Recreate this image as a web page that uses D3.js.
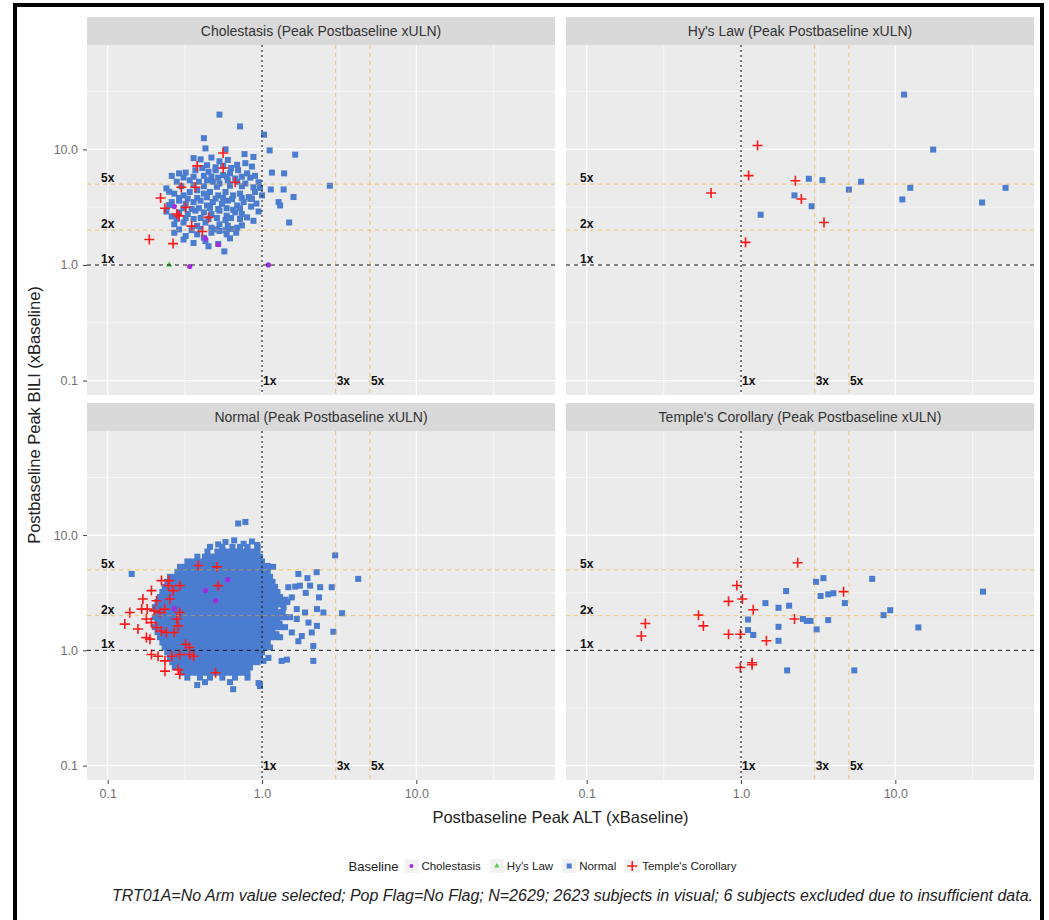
<!DOCTYPE html>
<html>
<head>
<meta charset="utf-8">
<script src="https://cdn.jsdelivr.net/npm/d3@7"></script>
<style>
  body { margin: 0; background: #fff; }
  svg { display: block; font-family: "Liberation Sans", Arial, sans-serif; }
</style>
</head>
<body>
<div id="chart"></div>
<script>
//************* data ***************/
var panelTitles = [
  "Cholestasis (Peak Postbaseline xULN)",
  "Hy's Law (Peak Postbaseline xULN)",
  "Normal (Peak Postbaseline xULN)",
  "Temple's Corollary (Peak Postbaseline xULN)"
];
var baselineGroups = ["Cholestasis", "Hy's Law", "Normal", "Temple's Corollary"];
var majorTicks = [0.1, 1, 10];
var minorTicks = [0.316, 3.16, 31.6];
var altRefs = [1, 3, 5];
var altRefLabels = ["1x", "3x", "5x"];
var biliRefs = [1, 2, 5];
var biliRefLabels = ["1x", "2x", "5x"];

// every point is [peak ALT xBaseline, peak BILI xBaseline]
// --- Cholestasis panel
var cholNormal = [
  [0.42,12.5],[0.53,20],[0.72,15.8],[1.03,13.4],
  [0.43,10.2],[0.58,10],[0.77,9.1],[0.88,8.6],[1.12,9.8],[1.64,9.0],
  [0.36,8.4],[0.40,8.2],[0.47,8.5],[0.53,7.9],[0.60,8.1],[0.69,7.35],[0.78,7.6],[0.86,7.1],
  [0.44,7.3],[0.50,7.0],[0.56,7.2],[0.63,6.9],
  [0.26,5.9],[0.29,6.2],[0.32,6.3],[0.37,6.6],[0.41,6.9],[0.45,6.4],[0.50,6.6],[0.56,6.0],[0.62,6.2],[0.70,6.6],[0.80,6.2],[0.90,5.9],[1.16,6.3],[1.39,6.2],
  [0.31,5.7],[0.36,5.8],[0.42,5.9],[0.47,5.8],[0.52,5.7],[0.59,5.8],[0.67,5.6],[0.74,5.8],[0.84,5.7],
  [0.28,5.25],[0.34,5.4],[0.39,5.25],[0.44,5.4],[0.48,5.25],[0.53,5.07],[0.60,5.4],[0.69,5.25],[0.78,5.07],[0.88,4.7],[0.97,4.64],[1.14,4.5],[1.38,4.5],
  [0.30,4.8],[0.36,4.9],[0.42,4.8],[0.51,4.75],[0.62,4.85],[0.74,4.8],[0.95,5.2],[0.24,4.6],
  [0.25,4.3],[0.27,4.14],[0.31,4.0],[0.34,4.28],[0.38,4.43],[0.42,4.14],[0.46,4.28],[0.52,4.0],[0.58,4.28],[0.65,4.0],[0.72,4.14],[0.82,3.87],[0.90,4.28],[1.6,3.87],[1.0,4.0],
  [0.29,3.8],[0.33,3.75],[0.38,3.8],[0.44,3.85],[0.50,3.75],[0.56,3.8],[0.64,3.7],[0.74,3.8],[0.86,3.75],
  [0.26,3.5],[0.29,3.6],[0.32,3.38],[0.36,3.5],[0.40,3.6],[0.44,3.27],[0.48,3.5],[0.55,3.38],[0.60,3.6],[0.69,3.27],[0.76,3.5],[0.84,3.74],[1.28,3.5],[1.31,3.27],[0.92,3.4],[0.25,3.3],
  [0.31,3.1],[0.35,3.05],[0.39,3.1],[0.46,3.12],[0.52,3.05],[0.59,3.1],[0.65,3.0],[0.72,3.1],[0.85,3.2],
  [0.26,2.63],[0.29,2.85],[0.33,2.76],[0.37,2.95],[0.42,2.85],[0.47,2.76],[0.53,2.95],[0.59,2.67],[0.67,2.85],[0.74,2.76],[0.80,2.58],[0.88,2.41],[0.95,2.9],[0.24,2.9],
  [0.28,2.5],[0.32,2.55],[0.36,2.5],[0.40,2.55],[0.45,2.5],[0.51,2.55],[0.58,2.45],[0.63,2.55],[0.72,2.5],
  [0.27,2.25],[0.31,2.33],[0.38,2.18],[0.43,2.33],[0.47,2.1],[0.53,2.25],[0.60,2.18],[0.69,2.1],[1.5,2.33],[0.74,2.2],
  [0.29,2.03],[0.35,2.0],[0.40,2.05],[0.51,2.03],[0.58,2.0],[0.63,2.05],[0.68,1.9],
  [0.27,1.9],[0.32,1.78],[0.38,1.84],[0.42,1.72],[0.47,1.9],[0.53,1.97],[0.59,1.84],[0.62,1.7],
  [0.31,1.66],[0.36,1.55],[0.43,1.61],[0.52,1.52],[0.57,1.31],[0.45,1.45],
  [2.75,4.85]
];
var cholChol = [[0.34,0.97],[1.1,1.0],[0.27,3.2],[0.43,1.69],[0.52,1.5]];
var cholHys = [[0.25,1.0]];
var cholTemple = [
  [0.186,1.66],[0.265,1.53],[0.22,3.8],[0.235,3.1],[0.30,4.7],[0.37,4.7],[0.38,7.2],[0.56,9.3],
  [0.56,6.9],[0.67,5.2],[0.29,2.66],[0.32,3.15],[0.45,2.58],[0.35,2.17],[0.41,1.95],[0.28,2.76]
];

// --- Hy's Law panel
var hysNormal = [
  [11.4,29.8],[17.6,9.96],[2.75,5.57],[3.37,5.42],[6.0,5.25],[5.0,4.49],[12.5,4.65],
  [51.8,4.65],[11.1,3.69],[36.5,3.47],[2.22,4.0],[2.87,3.22],[1.34,2.72]
];
var hysTemple = [[1.28,10.8],[1.12,5.93],[2.25,5.35],[0.64,4.2],[2.46,3.72],[3.45,2.33],[1.07,1.57]];

// --- Normal panel: scattered points
var normNormal = [
  [0.70,12.6],[0.78,13.0],[2.98,6.67],[4.2,4.17],[1.72,4.6],[1.97,4.23],[2.26,4.77],[1.48,3.53],
  [1.64,3.57],[1.76,3.64],[2.05,3.64],[2.38,3.53],[2.83,3.53],[1.56,2.88],[1.92,3.15],[2.34,2.88],
  [1.38,2.36],[1.68,2.28],[1.9,2.13],[2.27,2.28],[2.5,2.13],[3.3,2.1],[1.68,1.87],[2.0,1.74],
  [2.27,1.63],[1.56,1.43],[1.81,1.33],[2.1,1.43],[2.9,1.45],[1.72,1.2],[2.15,1.09],[1.34,0.81],
  [1.45,0.83],[2.15,0.81],[1.02,0.81],[1.1,0.86],[0.95,0.52],[0.97,0.49],[0.65,0.46],[0.38,0.5],
  [1.18,5.3],[1.09,5.4],[0.143,4.6],
  [0.58,8.7],[0.66,9.0],[0.86,8.8],[0.76,8.4],[0.52,8.3],[0.93,8.2],
  [1.42,2.75],[1.3,1.7],[1.24,1.38],[1.33,2.5]
];
// dense core of the Normal panel, read row by row: [BILI, [ALT values]]
var normalBlobRows = [
  [7.9, [0.46,0.553,0.643,0.72,0.805,0.935]],
  [7.2, [0.443,0.514,0.553,0.597,0.643,0.693,0.747,0.805,0.867,0.935]],
  [6.5, [0.381,0.427,0.46,0.495,0.533,0.575,0.62,0.668,0.72,0.776,0.836,0.901,0.97]],
  [5.9, [0.328,0.354,0.381,0.411,0.443,0.477,0.514,0.553,0.597,0.643,0.693,0.747,0.805,0.867,0.935,1.0]],
  [5.3, [0.294,0.316,0.341,0.367,0.396,0.427,0.46,0.495,0.533,0.575,0.62,0.668,0.72,0.776,0.836,0.901,0.97,1.045]],
  [4.8, [0.283,0.305,0.328,0.354,0.381,0.411,0.443,0.477,0.514,0.553,0.597,0.643,0.693,0.747,0.805,0.867,0.935,1.0,1.09]],
  [4.34, [0.253,0.272,0.294,0.316,0.341,0.367,0.396,0.427,0.46,0.495,0.533,0.575,0.62,0.668,0.72,0.776,0.836,0.901,0.97,1.045,1.127]],
  [3.93, [0.243,0.262,0.283,0.305,0.328,0.354,0.381,0.411,0.443,0.477,0.514,0.553,0.597,0.643,0.693,0.747,0.805,0.867,0.935,1.0,1.09,1.17]],
  [3.55, [0.234,0.253,0.272,0.294,0.316,0.341,0.367,0.396,0.427,0.46,0.495,0.533,0.575,0.62,0.668,0.72,0.776,0.836,0.901,0.97,1.045,1.127,1.214]],
  [3.21, [0.226,0.243,0.262,0.283,0.305,0.328,0.354,0.381,0.411,0.443,0.477,0.514,0.553,0.597,0.643,0.693,0.747,0.805,0.867,0.935,1.0,1.09,1.17,1.26]],
  [2.9, [0.218,0.234,0.253,0.272,0.294,0.316,0.341,0.367,0.396,0.427,0.46,0.495,0.533,0.575,0.62,0.668,0.72,0.776,0.836,0.901,0.97,1.045,1.127,1.214,1.309]],
  [2.63, [0.21,0.226,0.243,0.262,0.283,0.305,0.328,0.354,0.381,0.411,0.443,0.477,0.514,0.553,0.597,0.643,0.693,0.747,0.805,0.867,0.935,1.0,1.09,1.17,1.26,1.36,1.46]],
  [2.37, [0.202,0.218,0.234,0.253,0.272,0.294,0.316,0.341,0.367,0.396,0.427,0.46,0.495,0.533,0.575,0.62,0.668,0.72,0.776,0.836,0.901,0.97,1.045,1.127,1.214]],
  [2.15, [0.21,0.226,0.243,0.262,0.283,0.305,0.328,0.354,0.381,0.411,0.443,0.477,0.514,0.553,0.597,0.643,0.693,0.747,0.805,0.867,0.935,1.0,1.09,1.17,1.26,1.36]],
  [1.94, [0.202,0.218,0.234,0.253,0.272,0.294,0.316,0.341,0.367,0.396,0.427,0.46,0.495,0.533,0.575,0.62,0.668,0.72,0.776,0.836,0.901,0.97,1.045,1.127,1.214,1.309,1.41,1.52]],
  [1.76, [0.21,0.226,0.243,0.262,0.283,0.305,0.328,0.354,0.381,0.411,0.443,0.477,0.514,0.553,0.597,0.643,0.693,0.747,0.805,0.867,0.935,1.0,1.09,1.17,1.26]],
  [1.59, [0.202,0.218,0.234,0.253,0.272,0.294,0.316,0.341,0.367,0.396,0.427,0.46,0.495,0.533,0.575,0.62,0.668,0.72,0.776,0.836,0.901,0.97,1.045,1.127,1.214,1.309,1.41]],
  [1.44, [0.21,0.226,0.243,0.262,0.283,0.305,0.328,0.354,0.381,0.411,0.443,0.477,0.514,0.553,0.597,0.643,0.693,0.747,0.805,0.867,0.935,1.0,1.09,1.17]],
  [1.30, [0.218,0.234,0.253,0.272,0.294,0.316,0.341,0.367,0.396,0.427,0.46,0.495,0.533,0.575,0.62,0.668,0.72,0.776,0.836,0.901,0.97,1.045,1.127,1.214,1.309]],
  [1.17, [0.226,0.243,0.262,0.283,0.305,0.328,0.354,0.381,0.411,0.443,0.477,0.514,0.553,0.597,0.643,0.693,0.747,0.805,0.867,0.935,1.0,1.09]],
  [1.06, [0.234,0.253,0.272,0.294,0.316,0.341,0.367,0.396,0.427,0.46,0.495,0.533,0.575,0.62,0.668,0.72,0.776,0.836,0.901,0.97,1.045,1.127]],
  [0.96, [0.243,0.262,0.283,0.305,0.328,0.354,0.381,0.411,0.443,0.477,0.514,0.553,0.597,0.643,0.693,0.747,0.805,0.867,0.935,1.0]],
  [0.87, [0.253,0.272,0.294,0.316,0.341,0.367,0.396,0.427,0.46,0.495,0.533,0.575,0.62,0.668,0.72,0.776,0.836,0.901,0.97]],
  [0.79, [0.262,0.283,0.305,0.328,0.354,0.381,0.411,0.443,0.477,0.514,0.553,0.597,0.643,0.693,0.747,0.805,0.867,0.935]],
  [0.71, [0.272,0.294,0.316,0.341,0.367,0.396,0.427,0.46,0.495,0.533,0.575,0.62,0.668,0.72,0.776,0.836]],
  [0.64, [0.305,0.328,0.354,0.381,0.411,0.443,0.477,0.514,0.553,0.597,0.643,0.693,0.747,0.805]],
  [0.58, [0.328,0.396,0.46,0.553,0.668,0.805]],
  [0.53, [0.427,0.62]]
];
var normChol = [[0.5,2.7],[0.43,3.3],[0.27,2.3],[0.6,4.1]];
var normTemple = [
  [0.386,5.45],[0.51,5.3],[0.52,3.64],[0.223,4.03],[0.247,3.64],[0.266,3.3],[0.293,3.64],[0.192,3.3],
  [0.169,2.79],[0.207,2.69],[0.253,2.79],[0.166,2.28],[0.18,2.28],[0.2,2.2],[0.139,2.13],[0.218,2.13],
  [0.234,2.28],[0.293,2.13],[0.129,1.69],[0.157,1.53],[0.178,1.87],[0.192,1.74],[0.207,1.58],[0.223,1.47],
  [0.24,1.43],[0.27,1.43],[0.178,1.29],[0.188,1.25],[0.32,1.13],[0.192,0.92],[0.212,0.89],[0.235,0.81],
  [0.26,0.89],[0.293,0.92],[0.235,0.66],[0.286,0.68],[0.293,0.62],[0.36,0.89],[0.34,1.06],[0.28,1.87],
  [0.286,1.63],[0.25,4.03],[0.5,0.64],[0.34,0.92]
];

// --- Temple's Corollary panel
var templeNormal = [
  [7.08,4.17],[37,3.23],[3.42,4.23],[3.06,3.93],[3.28,2.96],[3.67,3.06],[3.97,3.13],[4.71,2.57],
  [1.96,3.27],[1.44,2.57],[1.75,2.34],[2.05,2.44],[8.39,2.02],[9.27,2.23],[1.11,1.85],[14.1,1.58],
  [3.67,1.83],[2.52,1.87],[2.67,1.80],[2.82,1.80],[3.09,1.52],[1.75,1.60],[1.11,1.50],[1.2,1.36],
  [1.75,1.21],[1.99,0.67],[5.42,0.67]
];
var templeTemple = [
  [2.33,5.75],[0.94,3.65],[1.02,2.79],[0.83,2.66],[1.2,2.25],[0.53,2.02],[0.57,1.63],[0.24,1.71],
  [0.226,1.33],[0.83,1.38],[0.99,1.38],[1.46,1.21],[2.22,1.87],[4.62,3.23],[0.99,0.71],[1.18,0.78],[1.18,0.75]
];

var footnote = "TRT01A=No Arm value selected; Pop Flag=No Flag; N=2629; 2623 subjects in visual; 6 subjects excluded due to insufficient data.";

// flatten the Normal core rows into points
var normBlob = [];
normalBlobRows.forEach(function(r) {
  r[1].forEach(function(a) { normBlob.push([a, r[0]]); });
});

var panels = [
  {title: panelTitles[0], col: 0, row: 0, groups: {"Normal": cholNormal, "Cholestasis": cholChol, "Hy's Law": cholHys, "Temple's Corollary": cholTemple}},
  {title: panelTitles[1], col: 1, row: 0, groups: {"Normal": hysNormal, "Cholestasis": [], "Hy's Law": [], "Temple's Corollary": hysTemple}},
  {title: panelTitles[2], col: 0, row: 1, groups: {"Normal": normBlob.concat(normNormal), "Cholestasis": normChol, "Hy's Law": [], "Temple's Corollary": normTemple}},
  {title: panelTitles[3], col: 1, row: 1, groups: {"Normal": templeNormal, "Cholestasis": [], "Hy's Law": [], "Temple's Corollary": templeTemple}}
];

//************* set dimensions ***************/
var W = 1049, H = 920;
var colX = [87, 566];
var rowTop = [17, 403];
var stripH = 28;
var panelW = 468;
var panelH = [350, 349];

var color = d3.scaleOrdinal()
  .domain(baselineGroups)
  .range(["#a02be0", "#5cc85c", "#4a7ccf", "#ff1a1a"]);

//*************** setup svg *****************/
var svg = d3.select("#chart")
  .append("svg")
    .attr("width", W)
    .attr("height", H);

svg.append("rect").attr("width", W).attr("height", H).attr("fill", "#fff");

// black frame of the screenshot
svg.append("rect").attr("x", 13).attr("y", 3).attr("width", 4).attr("height", H).attr("fill", "#000");
svg.append("rect").attr("x", 13).attr("y", 3).attr("width", 1031).attr("height", 4).attr("fill", "#000");
svg.append("rect").attr("x", 1040).attr("y", 3).attr("width", 4).attr("height", H).attr("fill", "#000");

//************* scales ***************/
var x = d3.scaleLog().domain([0.0734, 79.2]).range([0, panelW]);
var yScales = panelH.map(function(h) {
  return d3.scaleLog().domain([0.075, 80]).range([h, 0]);
});

var fmt = d3.format(".1f");

//*************** panels *****************/
panels.forEach(function(p) {
  var y = yScales[p.row];
  var h = panelH[p.row];
  var g = svg.append("g")
    .attr("transform", "translate(" + colX[p.col] + "," + (rowTop[p.row] + stripH) + ")");

  // strip
  g.append("rect")
    .attr("x", 0).attr("y", -stripH)
    .attr("width", panelW).attr("height", stripH)
    .attr("fill", "#d9d9d9");
  g.append("text")
    .attr("x", panelW / 2).attr("y", -stripH / 2)
    .attr("dy", "0.35em")
    .attr("text-anchor", "middle")
    .style("font-size", "14px")
    .style("fill", "#333")
    .text(p.title);

  // background + grid
  g.append("rect").attr("width", panelW).attr("height", h).attr("fill", "#ebebeb");

  g.selectAll(".minx").data(minorTicks).enter().append("line")
    .attr("x1", d => x(d)).attr("x2", d => x(d)).attr("y1", 0).attr("y2", h)
    .attr("stroke", "#fff").attr("stroke-width", 0.6);
  g.selectAll(".miny").data(minorTicks).enter().append("line")
    .attr("y1", d => y(d)).attr("y2", d => y(d)).attr("x1", 0).attr("x2", panelW)
    .attr("stroke", "#fff").attr("stroke-width", 0.6);
  g.selectAll(".majx").data(majorTicks).enter().append("line")
    .attr("x1", d => x(d)).attr("x2", d => x(d)).attr("y1", 0).attr("y2", h)
    .attr("stroke", "#fff").attr("stroke-width", 1.2);
  g.selectAll(".majy").data(majorTicks).enter().append("line")
    .attr("y1", d => y(d)).attr("y2", d => y(d)).attr("x1", 0).attr("x2", panelW)
    .attr("stroke", "#fff").attr("stroke-width", 1.2);

  // points: Normal squares first, then the others on top
  g.selectAll(".sq").data(p.groups["Normal"]).enter().append("rect")
    .attr("x", d => x(d[0]) - 3).attr("y", d => y(d[1]) - 3)
    .attr("width", 6).attr("height", 6)
    .attr("fill", color("Normal"));

  g.selectAll(".dot").data(p.groups["Cholestasis"]).enter().append("circle")
    .attr("cx", d => x(d[0])).attr("cy", d => y(d[1])).attr("r", 2.6)
    .attr("fill", color("Cholestasis"));

  g.selectAll(".tri").data(p.groups["Hy's Law"]).enter().append("path")
    .attr("d", d3.symbol(d3.symbolTriangle, 18))
    .attr("transform", d => "translate(" + x(d[0]) + "," + y(d[1]) + ")")
    .attr("fill", color("Hy's Law"));

  g.selectAll(".plus").data(p.groups["Temple's Corollary"]).enter().append("path")
    .attr("d", "M-5,0H5M0,-5V5")
    .attr("transform", d => "translate(" + x(d[0]) + "," + y(d[1]) + ")")
    .attr("stroke", color("Temple's Corollary"))
    .attr("stroke-width", 1.6)
    .attr("fill", "none");

  // reference lines
  biliRefs.forEach(function(v) {
    g.append("line")
      .attr("x1", 0).attr("x2", panelW).attr("y1", y(v)).attr("y2", y(v))
      .attr("stroke", v === 1 ? "#111" : "#f5a623")
      .attr("stroke-opacity", v === 1 ? 1 : 0.6)
      .attr("stroke-width", 1)
      .attr("stroke-dasharray", "4,4");
  });
  altRefs.forEach(function(v) {
    g.append("line")
      .attr("y1", 0).attr("y2", h).attr("x1", x(v)).attr("x2", x(v))
      .attr("stroke", v === 1 ? "#222" : "#f5a623")
      .attr("stroke-opacity", v === 1 ? 1 : 0.6)
      .attr("stroke-width", v === 1 ? 1.2 : 1)
      .attr("stroke-dasharray", v === 1 ? "2,3" : "4,4");
  });

  // reference labels
  biliRefs.forEach(function(v, i) {
    g.append("text")
      .attr("x", x(0.1)).attr("y", y(v) - 2)
      .attr("text-anchor", "middle")
      .style("font-size", "12px").style("font-weight", "bold").style("fill", "#111")
      .text(biliRefLabels[i]);
  });
  altRefs.forEach(function(v, i) {
    g.append("text")
      .attr("x", x(v) + 1).attr("y", y(0.1))
      .attr("dy", "0.35em")
      .style("font-size", "12px").style("font-weight", "bold").style("fill", "#111")
      .text(altRefLabels[i]);
  });

  //************* Axes ***************/
  if (p.row === 1) {
    var xa = g.append("g")
      .attr("transform", "translate(0," + h + ")")
      .call(d3.axisBottom(x).tickValues(majorTicks).tickFormat(fmt).tickSize(4).tickPadding(5));
    styleAxis(xa);
  }
  if (p.col === 0) {
    var ya = g.append("g")
      .call(d3.axisLeft(y).tickValues(majorTicks).tickFormat(fmt).tickSize(4).tickPadding(5));
    styleAxis(ya);
  }
});

function styleAxis(a) {
  a.select(".domain").remove();
  a.selectAll("line").attr("stroke", "#444");
  a.selectAll("text")
    .style("font-size", "12.5px")
    .style("font-family", "'Liberation Sans', Arial, sans-serif")
    .style("fill", "#707070");
}

//***************** axis titles *******************/
svg.append("text")
  .attr("x", (colX[0] + colX[1] + panelW) / 2)
  .attr("y", 823)
  .attr("text-anchor", "middle")
  .style("font-size", "16.5px")
  .style("fill", "#222")
  .text("Postbaseline Peak ALT (xBaseline)");

svg.append("text")
  .attr("transform", "translate(40,415) rotate(-90)")
  .attr("text-anchor", "middle")
  .style("font-size", "16.5px")
  .style("fill", "#222")
  .text("Postbaseline Peak BILI (xBaseline)");

//*************** legend *****************/
var legend = svg.append("g").attr("transform", "translate(0,866)");
var legTitle = legend.append("text")
  .attr("x", 0).attr("dy", "0.35em")
  .style("font-size", "13px").style("fill", "#222")
  .text("Baseline");
var cursor = legTitle.node().getComputedTextLength() + 6;
var keySize = 14;

baselineGroups.forEach(function(grp) {
  var item = legend.append("g").attr("transform", "translate(" + cursor + ",0)");
  item.append("rect")
    .attr("x", 0).attr("y", -keySize / 2)
    .attr("width", keySize).attr("height", keySize)
    .attr("fill", "#f2f2f2");
  var cx = keySize / 2;
  if (grp === "Cholestasis") {
    item.append("circle").attr("cx", cx).attr("cy", 0).attr("r", 2).attr("fill", color(grp));
  } else if (grp === "Hy's Law") {
    item.append("path").attr("d", d3.symbol(d3.symbolTriangle, 12))
      .attr("transform", "translate(" + cx + ",0)").attr("fill", color(grp));
  } else if (grp === "Normal") {
    item.append("rect").attr("x", cx - 2.5).attr("y", -2.5).attr("width", 5).attr("height", 5).attr("fill", color(grp));
  } else {
    item.append("path").attr("d", "M-5,0H5M0,-5V5")
      .attr("transform", "translate(" + cx + ",0)")
      .attr("stroke", color(grp)).attr("stroke-width", 1.5);
  }
  var t = item.append("text")
    .attr("x", keySize + 3).attr("dy", "0.35em")
    .style("font-size", "11.5px").style("fill", "#222")
    .text(grp);
  cursor += keySize + 3 + t.node().getComputedTextLength() + 9;
});
legend.attr("transform", "translate(" + (547 - cursor / 2) + ",866)");

//*************** footnote *****************/
svg.append("text")
  .attr("x", 1033).attr("y", 901)
  .attr("text-anchor", "end")
  .style("font-size", "16px")
  .style("font-style", "italic")
  .style("fill", "#222")
  .text(footnote);
</script>
</body>
</html>
